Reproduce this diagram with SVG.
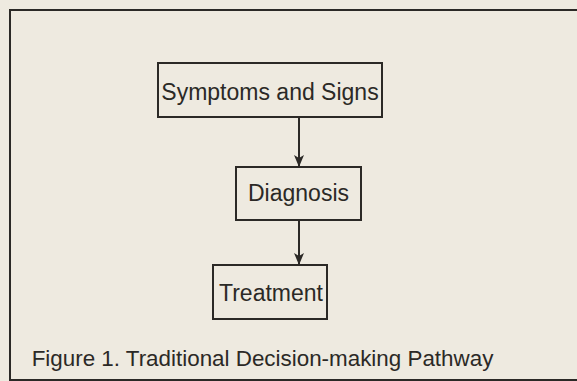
<svg xmlns="http://www.w3.org/2000/svg" width="577" height="381" viewBox="0 0 577 381">
<style>
.box{fill:none;stroke:#2b2926;stroke-width:2}
.lbl{font-family:"Liberation Sans",Arial,sans-serif;font-size:23px;fill:#2b2926;text-anchor:middle}
.cap{font-size:22.4px}
.conn{stroke:#2b2926;stroke-width:2;fill:none}
</style>
<defs>
<marker id="ah" viewBox="0 0 12 10" refX="11" refY="5" markerWidth="12" markerHeight="10" markerUnits="userSpaceOnUse" orient="auto">
<path d="M0,0 L12,5 L0,10 L3,5 Z" fill="#2b2926"/>
</marker>
</defs>
<rect x="0" y="0" width="577" height="381" fill="#eeeae0"/>
<rect x="10" y="10" width="580" height="370" class="box"/>
<g id="symptoms">
<rect x="158" y="63" width="224" height="54" class="box"/>
<text x="270" y="100" class="lbl">Symptoms and Signs</text>
</g>
<g id="diagnosis">
<rect x="236" y="167" width="125" height="53" class="box"/>
<text x="298.5" y="201" class="lbl">Diagnosis</text>
</g>
<g id="treatment">
<rect x="213" y="265" width="114" height="54" class="box"/>
<text x="271" y="301" class="lbl">Treatment</text>
</g>
<g id="connectors">
<line x1="299" y1="117" x2="299" y2="166" class="conn" marker-end="url(#ah)"/>
<line x1="299" y1="220" x2="299" y2="264" class="conn" marker-end="url(#ah)"/>
</g>
<text x="262.5" y="366" class="lbl cap">Figure 1. Traditional Decision-making Pathway</text>
</svg>
